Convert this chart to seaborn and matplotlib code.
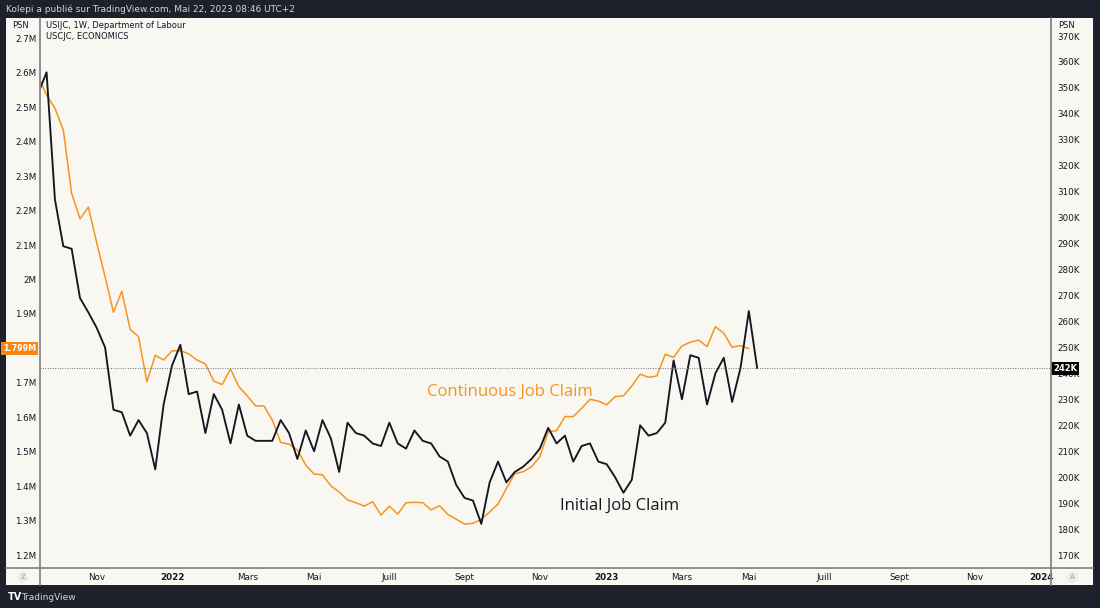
import pandas as pd
import matplotlib
matplotlib.use("Agg")
import matplotlib.pyplot as plt
import matplotlib.transforms as mtransforms
from matplotlib.lines import Line2D
from matplotlib.patches import Rectangle
import seaborn as sns

# weekly bars (TradingView puts weekly bars on the Monday)
first_bar = "2021-09-13"

# USIJC, initial jobless claims, thousands (right scale)
initial_claims = [348, 356, 307, 289, 288, 269, 263.5, 257.5, 250, 226,
                  225, 216, 222, 217, 203, 228, 243, 251, 232, 233,
                  217, 232, 226, 213, 228, 216, 214, 214, 214, 222,
                  217, 207, 218, 210, 222, 215, 202, 221, 217, 216,
                  213, 212, 221, 213, 211, 218, 214, 213, 208, 206,
                  197, 192, 191, 182, 198, 206, 198, 202, 204, 207,
                  211, 219, 213, 216, 206, 212, 213, 206, 205, 200,
                  194, 199, 220, 216, 217, 221, 245, 230, 247, 246,
                  228, 240, 246, 229, 242, 264, 242]

# USCJC, continuing jobless claims, millions (left scale)
continuing_claims = [2.59, 2.535, 2.497, 2.434, 2.25, 2.176, 2.21, 2.106, 2.008, 1.905,
                     1.966, 1.855, 1.834, 1.703, 1.78, 1.766, 1.793, 1.793, 1.784, 1.766,
                     1.755, 1.705, 1.695, 1.74, 1.689, 1.662, 1.633, 1.633, 1.592, 1.527,
                     1.522, 1.505, 1.461, 1.435, 1.433, 1.401, 1.383, 1.36, 1.352, 1.342,
                     1.355, 1.316, 1.342, 1.319, 1.352, 1.353, 1.352, 1.331, 1.343, 1.318,
                     1.304, 1.29, 1.292, 1.304, 1.325, 1.348, 1.393, 1.436, 1.442, 1.456,
                     1.485, 1.558, 1.561, 1.602, 1.602, 1.626, 1.652, 1.647, 1.636, 1.66,
                     1.662, 1.691, 1.725, 1.716, 1.72, 1.783, 1.774, 1.807, 1.818, 1.824,
                     1.805, 1.863, 1.844, 1.803, 1.808, 1.799]

x_tick_dates = ["2021-11-01", "2022-01-03", "2022-03-07", "2022-05-02", "2022-07-04",
                "2022-09-05", "2022-11-07", "2023-01-02", "2023-03-06", "2023-05-01",
                "2023-07-03", "2023-09-04", "2023-11-06", "2024-01-01"]
x_tick_labels = ["Nov", "2022", "Mars", "Mai", "Juill", "Sept", "Nov",
                 "2023", "Mars", "Mai", "Juill", "Sept", "Nov", "2024"]

left_ticks = [1.2, 1.3, 1.4, 1.5, 1.6, 1.7, 1.8, 1.9, 2.0, 2.1, 2.2, 2.3, 2.4, 2.5, 2.6, 2.7]
left_tick_labels = ["1.2M", "1.3M", "1.4M", "1.5M", "1.6M", "1.7M", "", "1.9M",
                    "2M", "2.1M", "2.2M", "2.3M", "2.4M", "2.5M", "2.6M", "2.7M"]
right_ticks = list(range(170, 371, 10))
right_tick_labels = [f"{v}K" for v in right_ticks]

DARK = "#1e212b"
CREAM = "#f8f7f2"
ORANGE = "#f7931e"
BLACK = "#131722"
GRID = "#85878d"

sns.set_theme(style="white")
plt.rcParams["font.family"] = ["DejaVu Sans"]

W, H = 1100, 608
fig = plt.figure(figsize=(11, 6.08), dpi=100, facecolor=DARK)

# cream chart panel
fig.add_artist(Rectangle((6 / W, 1 - 585 / H), (1093 - 6) / W, (585 - 18) / H,
                         transform=fig.transFigure, facecolor=CREAM, edgecolor="none", zorder=0))

ax = fig.add_axes([40 / W, 1 - 568 / H, (1051 - 40) / W, (568 - 18) / H])
ax.set_facecolor(CREAM)
ax2 = ax.twinx()
ax2.patch.set_visible(False)

dates_ic = pd.date_range(first_bar, periods=len(initial_claims), freq="W-MON")
dates_cc = pd.date_range(first_bar, periods=len(continuing_claims), freq="W-MON")
df_ic = pd.DataFrame({"date": dates_ic, "claims": initial_claims})
df_cc = pd.DataFrame({"date": dates_cc, "claims": continuing_claims})

sns.lineplot(data=df_cc, x="date", y="claims", ax=ax, color=ORANGE, linewidth=1.1)
sns.lineplot(data=df_ic, x="date", y="claims", ax=ax2, color=BLACK, linewidth=1.35)

ax2.axhline(initial_claims[-1], color="#6f7178", linestyle=(0, (1, 1.5)), linewidth=0.7)

xmin = pd.Timestamp("2022-01-03") - pd.Timedelta(days=110.5)
xmax = pd.Timestamp("2022-01-03") + pd.Timedelta(days=736)
ax.set_xlim(xmin, xmax)
ax.set_ylim(1.1624, 2.759)
ax2.set_ylim(165.0, 376.94)

for a in (ax, ax2):
    a.set_xlabel("")
    a.set_ylabel("")
    for s in a.spines.values():
        s.set_visible(False)

ax.set_xticks(pd.to_datetime(x_tick_dates))
ax.set_xticklabels(x_tick_labels)
for lbl in ax.get_xticklabels():
    if lbl.get_text().isdigit():
        lbl.set_fontweight("bold")
ax.tick_params(axis="x", length=0, pad=3.5, labelsize=6.3, colors=BLACK)

ax.set_yticks(left_ticks)
ax.set_yticklabels(left_tick_labels)
ax.tick_params(axis="y", length=0, pad=2.5, labelsize=6.3, colors=BLACK)
ax2.set_yticks(right_ticks)
ax2.set_yticklabels(right_tick_labels)
ax2.tick_params(axis="y", length=0, pad=4.5, labelsize=6.3, colors=BLACK)
ax.grid(False)
ax2.grid(False)

# last value markers on the scales
left_tr = mtransforms.blended_transform_factory(ax.transAxes, ax.transData)
ax.text(-0.004, continuing_claims[-1], "1.799M", transform=left_tr, ha="right", va="center",
        fontsize=5.8, color="white", fontweight="bold",
        bbox=dict(boxstyle="square,pad=0.25", facecolor="#f7870f", edgecolor="none"))
right_tr = mtransforms.blended_transform_factory(ax2.transAxes, ax2.transData)
ax2.text(1.002, initial_claims[-1], "242K", transform=right_tr, ha="left", va="center",
         fontsize=6, color="white", fontweight="bold",
         bbox=dict(boxstyle="square,pad=0.25", facecolor="#000000", edgecolor="none"))

# panel separators
for xs, ys in [((40, 40), (18, 585)), ((1051, 1051), (18, 585)), ((6, 1093), (568, 568))]:
    fig.add_artist(Line2D([x / W for x in xs], [1 - y / H for y in ys],
                          transform=fig.transFigure, color=GRID, linewidth=1.3))

# texts
fig.text(6 / W, 1 - 9 / H, "Kolepi a publié sur TradingView.com, Mai 22, 2023 08:46 UTC+2",
         color="#d1d4dc", fontsize=6.5, va="center", ha="left")
fig.text(46 / W, 1 - 26 / H, "USIJC, 1W, Department of Labour", color=BLACK, fontsize=6,
         va="center", ha="left")
fig.text(46 / W, 1 - 36.5 / H, "USCJC, ECONOMICS", color=BLACK, fontsize=6,
         va="center", ha="left")
fig.text(12 / W, 1 - 25 / H, "PSN", color=BLACK, fontsize=6, va="center", ha="left")
fig.text(1058 / W, 1 - 25 / H, "PSN", color=BLACK, fontsize=6, va="center", ha="left")

fig.text(427 / W, 1 - 392 / H, "Continuous Job Claim", color=ORANGE, fontsize=12,
         family=["Open Sans", "DejaVu Sans"], va="center", ha="left")
fig.text(560 / W, 1 - 506 / H, "Initial Job Claim", color=BLACK, fontsize=12,
         family=["Open Sans", "DejaVu Sans"], va="center", ha="left")

for px, letter in [(23, "Z"), (1072, "A")]:
    fig.text(px / W, 1 - 577 / H, letter, color="#9598a1", fontsize=5, ha="center", va="center",
             bbox=dict(boxstyle="circle,pad=0.35", facecolor="#ececec", edgecolor="none"))

fig.text(8 / W, 1 - 597 / H, "TV", color="white", fontsize=7, fontweight="bold",
         va="center", ha="left")
fig.text(21 / W, 1 - 597 / H, "TradingView", color="#d1d4dc", fontsize=6.5,
         va="center", ha="left")

fig.savefig("out.png", dpi=100, facecolor=DARK)
